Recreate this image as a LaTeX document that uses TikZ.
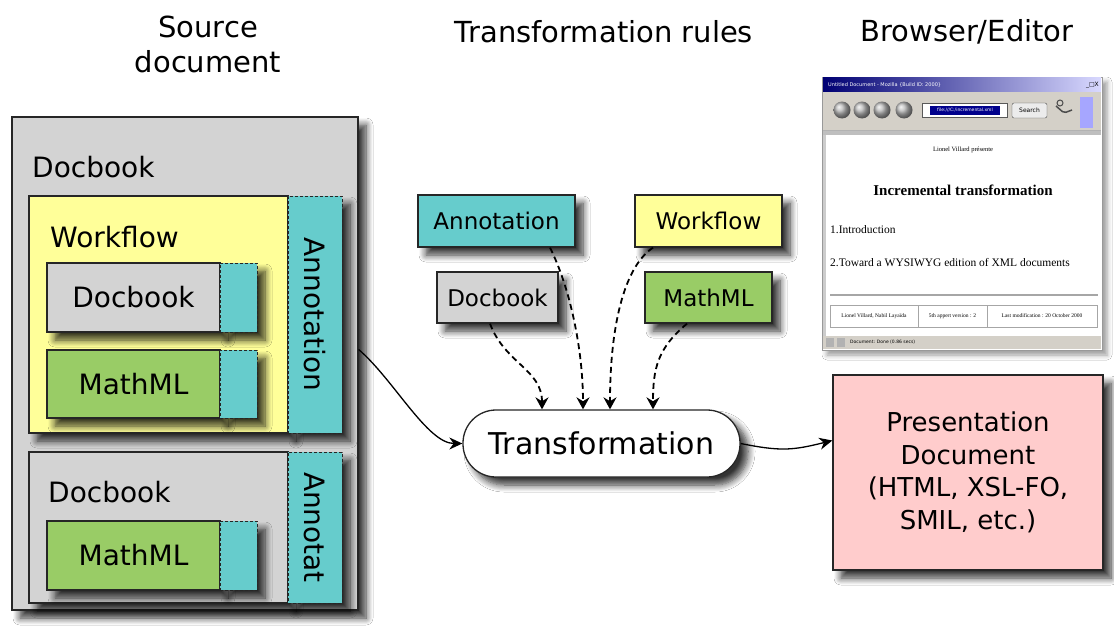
\documentclass[tikz,border=0pt]{standalone}
\usepackage{fontspec}
\setmainfont{DejaVu Sans}
\newfontfamily\serifface{Liberation Serif}
\usetikzlibrary{arrows.meta,shadows.blur,calc}
\definecolor{grayc}{HTML}{D3D3D3}
\definecolor{yelc}{HTML}{FFFF99}
\definecolor{annc}{HTML}{66CCCC}
\definecolor{mmc}{HTML}{99CC66}
\definecolor{pinkc}{HTML}{FFCCCC}
\definecolor{winc}{HTML}{D4D0C8}
\begin{document}
\begin{tikzpicture}[x=1pt,y=-1pt,
  shad/.style={blur shadow={shadow xshift=8pt, shadow yshift=-8pt, shadow blur radius=7pt, shadow opacity=80, shadow blur steps=8}},
  box/.style={draw=black!85, line width=1.3pt, inner sep=0pt, shad},
  annbox/.style={box, fill=annc, line width=1pt, dash pattern=on 3pt off 2pt},
  lbl/.style={font=\fontsize{28}{32}\selectfont, inner sep=0pt, anchor=west},
  intxt/.style={font=\fontsize{28}{32}\selectfont},
  rule/.style={box, font=\fontsize{23}{27}\selectfont},
  big/.style={font=\fontsize{29}{35}\selectfont, align=center, inner sep=0pt},
  dep/.style={line width=1.8pt, dash pattern=on 6pt off 4pt, -{Stealth[length=12pt,width=13pt]}},
  flow/.style={line width=1.3pt, -{Stealth[length=13pt,width=12pt]}},
  tiny/.style={font=\serifface\fontsize{5.5}{6}\selectfont, inner sep=0pt}
]
\useasboundingbox (0,0) rectangle (1114,626);
\fill[white] (0,0) rectangle (1114,626);

% titles
\node[big] (t1) at (208,44) {Source\\document};
\node[big] (t2) at (604,32) {Transformation rules};
\node[big] (t3) at (967,32) {Browser/Editor};

% ---------- source document ----------
\node[box, fill=grayc, minimum width=346pt, minimum height=493pt] (outer) at (185,363.5) {};
\node[lbl] (l1) at (32,167) {Docbook};

\node[box, fill=yelc, minimum width=259pt, minimum height=237pt] (wf) at (158.5,314.5) {};
\node[annbox, minimum width=54pt, minimum height=237pt] (ann1) at (315,314.5) {};
\node[intxt, rotate=-90] (ann1t) at (ann1.center) {Annotation};
\node[lbl] (l2) at (50,237) {Workflow};

\node[box, fill=grayc, minimum width=173pt, minimum height=69pt, intxt] (db2) at (133.5,297.5) {Docbook};
\node[annbox, minimum width=37pt, minimum height=69pt] (db2a) at (238.5,297.5) {};
\node[box, fill=mmc, minimum width=173pt, minimum height=68pt, intxt] (mm1) at (133.5,384) {MathML};
\node[annbox, minimum width=37pt, minimum height=68pt] (mm1a) at (238.5,384) {};

\node[box, fill=grayc, minimum width=259pt, minimum height=151pt] (db3) at (158.5,527.5) {};
\node[annbox, minimum width=54pt, minimum height=151pt] (ann2) at (315,527.5) {};
\node[intxt, rotate=-90] (ann2t) at (ann2.center) {Annotat};
\node[lbl] (l3) at (48,492) {Docbook};
\node[box, fill=mmc, minimum width=173pt, minimum height=69pt, intxt] (mm2) at (133.5,555.5) {MathML};
\node[annbox, minimum width=37pt, minimum height=69pt] (mm2a) at (238.5,555.5) {};

% ---------- transformation rules ----------
\node[rule, fill=annc, minimum width=157pt, minimum height=52pt] (rAnn) at (496.5,221) {Annotation};
\node[rule, fill=yelc, minimum width=147pt, minimum height=52pt] (rWf) at (708.5,221) {Workflow};
\node[rule, fill=grayc, minimum width=121pt, minimum height=51pt] (rDb) at (497.5,297.5) {Docbook};
\node[rule, fill=mmc, minimum width=127pt, minimum height=51pt] (rMm) at (708.5,297.5) {MathML};

\node[draw=black!85, line width=1.3pt, fill=white, rounded corners=33pt, minimum width=277pt, minimum height=67pt, inner sep=0pt, font=\fontsize{30}{34}\selectfont, shad] (trans) at (601.5,443.5) {Transformation};

\draw[dep] ([xshift=-7.5pt]rDb.south) .. controls +(15,40) and +(0,-40) .. ([xshift=-59.5pt]trans.north);
\draw[dep] ([xshift=53.5pt]rAnn.south) .. controls +(20,40) and +(0,-60) .. ([xshift=-18.5pt]trans.north);
\draw[dep] ([xshift=-55.5pt]rWf.south) .. controls +(-30,20) and +(0,-80) .. ([xshift=8.5pt]trans.north);
\draw[dep] ([xshift=-21.5pt]rMm.south) .. controls +(-30,25) and +(0,-40) .. ([xshift=51.5pt]trans.north);

% ---------- presentation ----------
\node[box, fill=pinkc, minimum width=270pt, minimum height=195pt, align=center, font=\fontsize{26}{32.5}\selectfont] (pres) at (968,472.5) {Presentation\\Document\\(HTML, XSL-FO,\\SMIL, etc.)};

\draw[flow] ([yshift=14pt]outer.east) .. controls +(35,30) and +(-35,0) .. (trans.west);
\draw[flow] (trans.east) .. controls +(40,8) and +(-40,10) .. ([yshift=32pt]pres.west);

% ---------- browser screenshot ----------
\node[draw=gray!80, fill=white, minimum width=280pt, minimum height=273pt, inner sep=0pt, blur shadow={shadow xshift=5pt, shadow yshift=-5pt, shadow blur radius=5pt, shadow opacity=40}] (brw) at (962,213.5) {};
\shade[left color=blue!45!black, right color=blue!15!white] (823,78) rectangle (1101,92);
\node[tiny, text=white, anchor=west, font=\fontsize{5}{6}\selectfont] (wtitle) at (828,85) {Untitled Document - Mozilla \{Build ID: 2000\}};
\node[tiny, anchor=east, font=\fontsize{6}{6}\selectfont] (wbtn) at (1099,85) {\_□X};
\fill[winc] (823,92) rectangle (1101,134);
\foreach \bx in {842,862,882,904}{\shade[ball color=gray!55] (\bx,110) circle (8.5);}
\draw[fill=white, draw=gray!70!black] (922,103) rectangle (1007,117);
\fill[blue!55!black] (930,105.5) rectangle (1000,114.5);
\node[tiny, text=white, font=\fontsize{4.5}{5}\selectfont] (url) at (965,110) {file:///C:/incremental.xml};
\draw[rounded corners=2pt, fill=gray!15, draw=gray!60!black] (1012,103) rectangle (1047,118);
\node[tiny, font=\fontsize{6}{6}\selectfont] (srch) at (1029.5,110.5) {Search};
\draw[gray!60!black, line width=1.5pt, rounded corners=2pt] (1056,106) -- (1064,113) -- (1072,110);
\draw[gray!60!black, line width=1pt] (1060,103) circle (3);
\fill[blue!35] (1080,97) rectangle (1093,128);
\draw[gray!60] (823,130) -- (1101,130);
\fill[gray!50] (823,131) rectangle (1101,135);
\fill[gray!40] (823,135) rectangle (826,336);

\node[tiny, font=\serifface\fontsize{6.5}{7}\selectfont] (c1) at (963,150) {Lionel Villard présente};
\node[tiny, font=\serifface\bfseries\fontsize{15}{17}\selectfont] (c2) at (963,190) {Incremental transformation};
\node[tiny, anchor=west, font=\serifface\fontsize{11.5}{13}\selectfont] (c3) at (830,230) {1.Introduction};
\node[tiny, anchor=west, font=\serifface\fontsize{11.5}{13}\selectfont] (c4) at (830,263) {2.Toward a WYSIWYG edition of XML documents};
\draw[gray!70, line width=1.2pt] (830,295) -- (1098,295);
\draw[gray!70] (830,305) rectangle (1097,327);
\draw[gray!70] (918,305) -- (918,327);
\draw[gray!70] (987,305) -- (987,327);
\node[tiny] (f1) at (874,316) {Lionel Villard, Nabil Layaïda};
\node[tiny] (f2) at (952.5,316) {5th appert version : 2};
\node[tiny] (f3) at (1042,316) {Last modification : 20 October 2000};
\fill[winc] (823,336) rectangle (1101,349);
\node[tiny, anchor=west, font=\fontsize{4.5}{5}\selectfont] (st) at (850,342.5) {Document: Done (0.86 secs)};
\fill[gray!60] (826,338) rectangle (834,347);
\fill[gray!60] (837,338) rectangle (845,347);
\end{tikzpicture}
\end{document}
